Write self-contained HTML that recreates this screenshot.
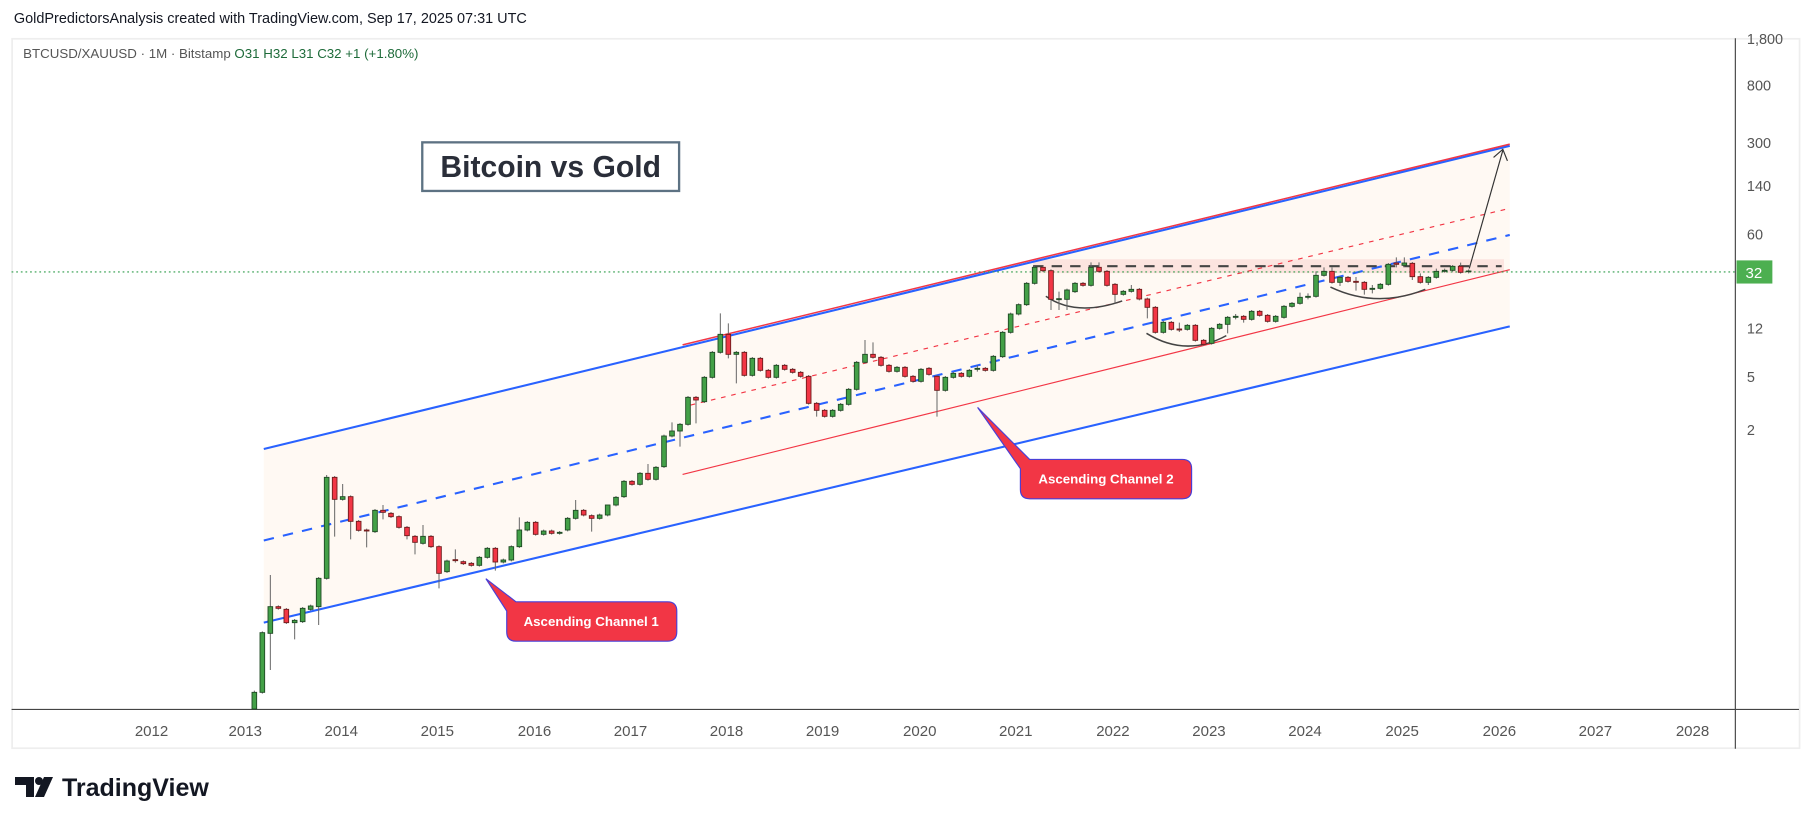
<!DOCTYPE html>
<html><head><meta charset="utf-8"><style>
html,body{margin:0;padding:0;background:#fff;}
svg{display:block;}
text{font-family:"Liberation Sans",sans-serif;}
.g{fill:#43a047;stroke:#1f4a24;stroke-width:2.7}
.r{fill:#f23645;stroke:#6e1b1b;stroke-width:2.7}
.w{stroke:#666;stroke-width:3;fill:none}
</style></head><body>
<svg width="1814" height="824" viewBox="0 0 1814 824" xmlns="http://www.w3.org/2000/svg">
<rect width="1814" height="824" fill="#fff"/>
<g transform="scale(1.1569,1.1573)">
  <text x="12" y="20" font-size="12.5" fill="#131722">GoldPredictorsAnalysis created with TradingView.com, Sep 17, 2025 07:31 UTC</text>
  <rect x="10.5" y="33.5" width="1545" height="613" fill="#fff" stroke="#eeeeee" stroke-width="1.5"/>
  <text x="20" y="50" font-size="11.5" fill="#555">BTCUSD/XAUUSD · 1M · Bitstamp <tspan fill="#1e6b3a">O31  H32  L31  C32  +1 (+1.80%)</tspan></text>
  <polygon points="228,388 1305,126 1305,282 228,538" fill="#fff9f3"/>
  <rect x="893" y="224" width="407" height="12" fill="#fce4df"/>
  <line x1="228" y1="388" x2="1305" y2="126" stroke="#2962ff" stroke-width="1.8"/>
  <line x1="590" y1="298" x2="1305" y2="124.5" stroke="#f23645" stroke-width="1.3"/>
  <line x1="228" y1="538" x2="1305" y2="282" stroke="#2962ff" stroke-width="1.8"/>
  <line x1="228" y1="467" x2="1305" y2="203" stroke="#2962ff" stroke-width="1.8" stroke-dasharray="9,8"/>
  <line x1="590" y1="410" x2="1305" y2="233" stroke="#f23645" stroke-width="1"/>
  <line x1="597" y1="350" x2="1305" y2="180" stroke="#f23645" stroke-width="1" stroke-dasharray="4,5"/>
  <line x1="893" y1="230" x2="1298" y2="230" stroke="#444" stroke-width="1.8" stroke-dasharray="9,7"/>
  <line x1="10" y1="235" x2="1500" y2="235" stroke="#2e9c4a" stroke-width="1" stroke-dasharray="1.5,2.5"/>
  <path d="M904,256 Q930,274 970,260" fill="none" stroke="#444" stroke-width="1.3"/>
  <path d="M991,288 Q1025,309 1060,290" fill="none" stroke="#444" stroke-width="1.3"/>
  <path d="M1150,248 Q1190,267 1232,250" fill="none" stroke="#444" stroke-width="1.3"/>
  <line x1="1270" y1="232" x2="1299" y2="130" stroke="#333" stroke-width="1"/>
  <polyline points="1291,136 1299,129 1303,139" fill="none" stroke="#333" stroke-width="1"/>
  <rect x="365" y="123" width="222" height="42" fill="#fff" stroke="#5d7283" stroke-width="2"/>
  <text x="476" y="153" font-size="26" font-weight="bold" fill="#2a2e39" text-anchor="middle">Bitcoin vs Gold</text>
  <path d="M420,500 L446,520 L577,520 Q585,520 585,528 L585,546 Q585,554 577,554 L446,554 Q438,554 438,546 L438,528 Z" fill="#f23645" stroke="#4a3fd6" stroke-width="1"/>
  <text x="511" y="541" font-size="11.5" font-weight="bold" fill="#fff" text-anchor="middle">Ascending Channel 1</text>
  <path d="M845,352 L890,397 L1022,397 Q1030,397 1030,405 L1030,423 Q1030,431 1022,431 L890,431 Q882,431 882,423 L882,405 Z" fill="#f23645" stroke="#4a3fd6" stroke-width="1"/>
  <text x="956" y="418" font-size="11.5" font-weight="bold" fill="#fff" text-anchor="middle">Ascending Channel 2</text>
  <line x1="1500" y1="33" x2="1500" y2="647" stroke="#444" stroke-width="1"/>
  <line x1="10" y1="613" x2="1555" y2="613" stroke="#444" stroke-width="1"/>
  <g font-size="12.5" fill="#555">
    <text x="1510" y="38">1,800</text><text x="1510" y="78">800</text><text x="1510" y="128">300</text>
    <text x="1510" y="165">140</text><text x="1510" y="207">60</text><text x="1510" y="288">12</text>
    <text x="1510" y="330">5</text><text x="1510" y="376">2</text>
  </g>
  <rect x="1501" y="225" width="31" height="20" fill="#4caf50"/>
  <text x="1516" y="240" font-size="13" fill="#fff" text-anchor="middle">32</text>
  <g font-size="13" fill="#555" text-anchor="middle">
    <text x="131" y="636">2012</text><text x="212" y="636">2013</text><text x="295" y="636">2014</text>
    <text x="378" y="636">2015</text><text x="462" y="636">2016</text><text x="545" y="636">2017</text>
    <text x="628" y="636">2018</text><text x="711" y="636">2019</text><text x="795" y="636">2020</text>
    <text x="878" y="636">2021</text><text x="962" y="636">2022</text><text x="1045" y="636">2023</text>
    <text x="1128" y="636">2024</text><text x="1212" y="636">2025</text><text x="1296" y="636">2026</text>
    <text x="1379" y="636">2027</text><text x="1463" y="636">2028</text>
  </g>
</g>

<!-- candles group 1 -->
<g transform="translate(230,440) scale(0.33333)">
<path class="w" d="M73 752V807M97 574V761M121 405V690M145 496V509M169 504V552M194 537V598M218 501V549M242 494V512M266 411V555M290 105V419M314 108V290M338 132V182M362 166V298M386 240V275M410 266V322M435 207V279M459 195V238M483 216V234M507 226V266M531 258V298M555 285V343M579 255V314M603 285V324M627 316V445M651 359V399M676 328V368M700 361V375M724 366V380M748 348V380M772 321V356M796 321V392M820 356V370M844 316V364M868 232V324M892 243V274M917 243V287M941 269V287M965 269V284M989 273V284M1013 231V274M1037 180V239M1061 207V229M1085 223V275M1109 221V239M1133 221V229M1158 168V199M1182 120V174M1206 120V137M1230 96V137M1254 72V122M1278 78V122"/>
<rect class="g" x="66" y="757" width="14" height="50"/>
<rect class="g" x="90" y="578" width="14" height="179"/>
<rect class="g" x="114" y="500" width="14" height="80"/>
<rect class="r" x="138" y="500" width="14" height="5"/>
<rect class="r" x="162" y="508" width="14" height="40"/>
<rect class="g" x="187" y="541" width="14" height="7"/>
<rect class="g" x="211" y="505" width="14" height="40"/>
<rect class="g" x="235" y="498" width="14" height="10"/>
<rect class="g" x="259" y="415" width="14" height="85"/>
<rect class="g" x="283" y="112" width="14" height="303"/>
<rect class="r" x="307" y="112" width="14" height="66"/>
<rect class="g" x="331" y="170" width="14" height="8"/>
<rect class="r" x="355" y="170" width="14" height="74"/>
<rect class="r" x="379" y="244" width="14" height="27"/>
<rect class="r" x="403" y="270" width="14" height="3"/>
<rect class="g" x="428" y="211" width="14" height="64"/>
<rect class="r" x="452" y="211" width="14" height="6"/>
<rect class="r" x="476" y="220" width="14" height="10"/>
<rect class="r" x="500" y="230" width="14" height="32"/>
<rect class="r" x="524" y="262" width="14" height="25"/>
<rect class="r" x="548" y="289" width="14" height="18"/>
<rect class="g" x="572" y="289" width="14" height="21"/>
<rect class="r" x="596" y="289" width="14" height="31"/>
<rect class="r" x="620" y="320" width="14" height="80"/>
<rect class="g" x="644" y="363" width="14" height="32"/>
<rect class="r" x="669" y="359" width="14" height="3"/>
<rect class="r" x="693" y="365" width="14" height="6"/>
<rect class="r" x="717" y="370" width="14" height="6"/>
<rect class="g" x="741" y="352" width="14" height="24"/>
<rect class="g" x="765" y="325" width="14" height="27"/>
<rect class="r" x="789" y="325" width="14" height="41"/>
<rect class="g" x="813" y="360" width="14" height="6"/>
<rect class="g" x="837" y="320" width="14" height="40"/>
<rect class="g" x="861" y="270" width="14" height="50"/>
<rect class="g" x="885" y="247" width="14" height="23"/>
<rect class="r" x="910" y="247" width="14" height="36"/>
<rect class="g" x="934" y="273" width="14" height="10"/>
<rect class="r" x="958" y="273" width="14" height="7"/>
<rect class="g" x="982" y="277" width="14" height="3"/>
<rect class="g" x="1006" y="235" width="14" height="35"/>
<rect class="g" x="1030" y="211" width="14" height="24"/>
<rect class="r" x="1054" y="211" width="14" height="14"/>
<rect class="r" x="1078" y="227" width="14" height="8"/>
<rect class="g" x="1102" y="225" width="14" height="10"/>
<rect class="g" x="1126" y="195" width="14" height="30"/>
<rect class="g" x="1151" y="172" width="14" height="23"/>
<rect class="g" x="1175" y="124" width="14" height="46"/>
<rect class="r" x="1199" y="124" width="14" height="9"/>
<rect class="g" x="1223" y="100" width="14" height="33"/>
<rect class="r" x="1247" y="100" width="14" height="18"/>
<rect class="g" x="1271" y="82" width="14" height="36"/>
</g>

<!-- candles group 2 -->
<g transform="translate(650,300) scale(0.33333)">
<path class="w" d="M42 404V504M66 367V412M90 369V440M114 288V377M138 288V370M163 228V309M187 153V236M211 40V161M235 70V175M259 153V250M283 153V230M307 171V230M331 171V215M355 207V236M379 192V236M404 192V212M428 204V221M452 213V233M476 225V314M500 306V350M524 327V353M548 327V353M572 309V335M596 264V317M620 183V272M645 120V191M669 127V176M693 168V200M717 192V218M741 198V218M765 198V233M789 225V248M813 204V248M837 201V227M861 225V350M886 228V275M910 216V236M934 216V233M958 207V233M982 196V215M1006 201V215M1030 165V215"/>
<rect class="g" x="35" y="408" width="14" height="92"/>
<rect class="g" x="59" y="393" width="14" height="15"/>
<rect class="g" x="83" y="373" width="14" height="20"/>
<rect class="g" x="107" y="292" width="14" height="81"/>
<rect class="r" x="131" y="292" width="14" height="8"/>
<rect class="g" x="156" y="232" width="14" height="73"/>
<rect class="g" x="180" y="157" width="14" height="75"/>
<rect class="g" x="204" y="103" width="14" height="54"/>
<rect class="r" x="228" y="103" width="14" height="60"/>
<rect class="g" x="252" y="157" width="14" height="6"/>
<rect class="r" x="276" y="157" width="14" height="69"/>
<rect class="g" x="300" y="175" width="14" height="51"/>
<rect class="r" x="324" y="175" width="14" height="36"/>
<rect class="r" x="348" y="211" width="14" height="21"/>
<rect class="g" x="372" y="196" width="14" height="36"/>
<rect class="r" x="397" y="196" width="14" height="12"/>
<rect class="r" x="421" y="208" width="14" height="9"/>
<rect class="r" x="445" y="217" width="14" height="12"/>
<rect class="r" x="469" y="229" width="14" height="81"/>
<rect class="r" x="493" y="310" width="14" height="21"/>
<rect class="r" x="517" y="331" width="14" height="18"/>
<rect class="g" x="541" y="331" width="14" height="18"/>
<rect class="g" x="565" y="313" width="14" height="18"/>
<rect class="g" x="589" y="268" width="14" height="45"/>
<rect class="g" x="613" y="187" width="14" height="81"/>
<rect class="g" x="638" y="163" width="14" height="24"/>
<rect class="r" x="662" y="163" width="14" height="9"/>
<rect class="r" x="686" y="172" width="14" height="24"/>
<rect class="r" x="710" y="196" width="14" height="18"/>
<rect class="g" x="734" y="202" width="14" height="12"/>
<rect class="r" x="758" y="202" width="14" height="27"/>
<rect class="r" x="782" y="229" width="14" height="15"/>
<rect class="g" x="806" y="208" width="14" height="36"/>
<rect class="r" x="830" y="205" width="14" height="18"/>
<rect class="r" x="854" y="229" width="14" height="42"/>
<rect class="g" x="879" y="232" width="14" height="39"/>
<rect class="g" x="903" y="220" width="14" height="12"/>
<rect class="r" x="927" y="220" width="14" height="9"/>
<rect class="g" x="951" y="211" width="14" height="18"/>
<rect class="g" x="975" y="205" width="14" height="3"/>
<rect class="r" x="999" y="205" width="14" height="6"/>
<rect class="g" x="1023" y="169" width="14" height="42"/>
</g>

<!-- candles group 3 -->
<g transform="translate(1000,230) scale(0.33333)">
<path class="w" d="M8 303V384M32 248V311M56 220V256M80 156V228M104 108V164M129 108V126M153 118V240M177 185V240M201 176V240M225 156V189M249 156V170M273 97V170M297 97V128M321 120V170M345 159V220M370 180V197M394 165V188M418 174V211M442 203V265M466 228V311M490 273V311M514 273V302M538 278V306M562 282V302M586 282V335M611 327V347M635 291V344M659 279V299M683 258V310M707 252V268M731 255V278M755 240V272M779 240V260M803 252V278M827 255V278M852 225V266M876 216V233M900 188V224M924 190V208M948 124V203M972 112V140M996 112V161M1020 138V168M1044 138V158M1068 141V182M1093 153V194M1117 165V190M1141 159V179M1165 99V167M1189 82V112M1213 82V110M1237 96V150M1261 130V161M1285 138V165M1309 116V146M1334 116V128M1358 105V125M1382 98V131M1406 118V130"/>
<rect class="g" x="1" y="307" width="14" height="73"/>
<rect class="g" x="25" y="252" width="14" height="55"/>
<rect class="g" x="49" y="224" width="14" height="28"/>
<rect class="g" x="73" y="160" width="14" height="64"/>
<rect class="g" x="97" y="112" width="14" height="48"/>
<rect class="r" x="122" y="112" width="14" height="10"/>
<rect class="r" x="146" y="122" width="14" height="86"/>
<rect class="g" x="170" y="206" width="14" height="3"/>
<rect class="g" x="194" y="180" width="14" height="28"/>
<rect class="g" x="218" y="160" width="14" height="25"/>
<rect class="r" x="242" y="160" width="14" height="6"/>
<rect class="g" x="266" y="112" width="14" height="54"/>
<rect class="r" x="290" y="112" width="14" height="12"/>
<rect class="r" x="314" y="124" width="14" height="42"/>
<rect class="r" x="338" y="163" width="14" height="30"/>
<rect class="g" x="363" y="184" width="14" height="9"/>
<rect class="g" x="387" y="178" width="14" height="6"/>
<rect class="r" x="411" y="178" width="14" height="29"/>
<rect class="r" x="435" y="207" width="14" height="25"/>
<rect class="r" x="459" y="232" width="14" height="75"/>
<rect class="g" x="483" y="277" width="14" height="30"/>
<rect class="r" x="507" y="277" width="14" height="21"/>
<rect class="r" x="531" y="297" width="14" height="3"/>
<rect class="g" x="555" y="286" width="14" height="12"/>
<rect class="r" x="579" y="286" width="14" height="45"/>
<rect class="r" x="604" y="331" width="14" height="12"/>
<rect class="g" x="628" y="295" width="14" height="45"/>
<rect class="g" x="652" y="283" width="14" height="12"/>
<rect class="g" x="676" y="262" width="14" height="21"/>
<rect class="g" x="700" y="259" width="14" height="3"/>
<rect class="r" x="724" y="259" width="14" height="9"/>
<rect class="g" x="748" y="244" width="14" height="24"/>
<rect class="r" x="772" y="244" width="14" height="12"/>
<rect class="r" x="796" y="256" width="14" height="18"/>
<rect class="g" x="820" y="259" width="14" height="15"/>
<rect class="g" x="845" y="229" width="14" height="33"/>
<rect class="g" x="869" y="220" width="14" height="9"/>
<rect class="g" x="893" y="202" width="14" height="18"/>
<rect class="g" x="917" y="199" width="14" height="3"/>
<rect class="g" x="941" y="136" width="14" height="63"/>
<rect class="g" x="965" y="124" width="14" height="12"/>
<rect class="r" x="989" y="124" width="14" height="33"/>
<rect class="g" x="1013" y="142" width="14" height="15"/>
<rect class="r" x="1037" y="142" width="14" height="12"/>
<rect class="r" x="1061" y="154" width="14" height="3"/>
<rect class="r" x="1086" y="157" width="14" height="21"/>
<rect class="g" x="1110" y="175" width="14" height="3"/>
<rect class="g" x="1134" y="163" width="14" height="12"/>
<rect class="g" x="1158" y="103" width="14" height="60"/>
<rect class="r" x="1182" y="99" width="14" height="4"/>
<rect class="g" x="1206" y="99" width="14" height="7"/>
<rect class="r" x="1230" y="100" width="14" height="40"/>
<rect class="r" x="1254" y="140" width="14" height="17"/>
<rect class="g" x="1278" y="142" width="14" height="15"/>
<rect class="g" x="1302" y="124" width="14" height="18"/>
<rect class="g" x="1327" y="121" width="14" height="3"/>
<rect class="g" x="1351" y="109" width="14" height="12"/>
<rect class="r" x="1375" y="109" width="14" height="18"/>
<rect class="g" x="1399" y="123" width="14" height="2"/>
</g>

<g fill="#131722">
  <path d="M15,777 L34,777 L34,797 L26,797 L26,785 L15,785 Z"/>
  <circle cx="39" cy="781" r="4"/>
  <path d="M44,777 L53,777 L44,797 L35,797 Z"/>
</g>
<text x="62" y="796" font-size="25" font-weight="bold" fill="#131722">TradingView</text>
</svg>
</body></html>
